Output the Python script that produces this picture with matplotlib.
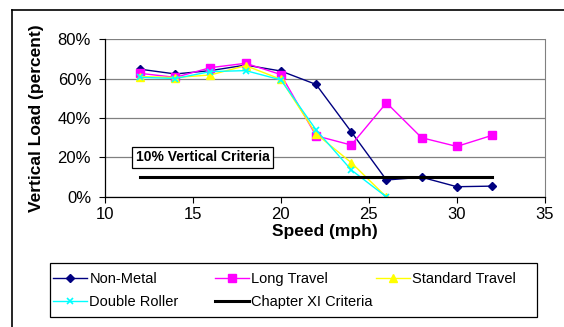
import matplotlib
matplotlib.use("Agg")
import matplotlib.pyplot as plt
from matplotlib.ticker import PercentFormatter
from matplotlib.lines import Line2D
from matplotlib.patches import Rectangle

plt.rcParams['font.family'] = ['Liberation Sans', 'DejaVu Sans']

W, H = 564, 327

# Vertical load (%) vs speed (mph)
speed_full = [12, 14, 16, 18, 20, 22, 24, 26, 28, 30, 32]
speed_short = [12, 14, 16, 18, 20, 22, 24, 26]

non_metal = [64.7, 62.3, 64.0, 66.8, 63.8, 57.0, 33.0, 8.6, 10.0, 5.2, 5.5]
long_travel = [62.6, 60.6, 65.5, 67.7, 62.0, 31.0, 26.3, 47.7, 30.0, 25.6, 31.2]
standard_travel = [61.0, 60.5, 61.8, 66.5, 59.6, 32.0, 17.4, 0.0]
double_roller = [60.6, 60.0, 63.5, 64.0, 59.3, 34.0, 13.7, 0.0]

criteria_x = [12, 32]
criteria_y = [10, 10]

fig = plt.figure(figsize=(W / 100, H / 100), dpi=100)
ax = fig.add_axes([0.186, 0.3976, 0.780, 0.4831])

l_nm, = ax.plot(speed_full, non_metal, color="#000080", marker="D", markersize=4.5,
                linewidth=1.0, label="Non-Metal")
l_lt, = ax.plot(speed_full, long_travel, color="#ff00ff", marker="s", markersize=6,
                linewidth=1.0, label="Long Travel")
l_st, = ax.plot(speed_short, standard_travel, color="#ffff00", marker="^", markersize=6,
                linewidth=1.0, label="Standard Travel")
l_dr, = ax.plot(speed_short, double_roller, color="#00ffff", marker="x", markersize=5,
                markeredgewidth=1.2, linewidth=1.0, label="Double Roller")
l_cx, = ax.plot(criteria_x, criteria_y, color="black", linewidth=2.2,
                label="Chapter XI Criteria")

ax.set_xlim(10, 35)
ax.set_ylim(0, 80)
ax.set_xticks([10, 15, 20, 25, 30, 35])
ax.set_yticks([0, 20, 40, 60, 80])
ax.yaxis.set_major_formatter(PercentFormatter(decimals=0))
ax.tick_params(axis="both", labelsize=12, direction="out", length=4,
               width=0.8, colors="black")
ax.tick_params(axis="y", pad=6)
ax.grid(axis="y", color="#808080", linewidth=0.9)
ax.set_axisbelow(True)

ax.spines["top"].set_visible(False)
ax.spines["right"].set_color("#808080")
ax.spines["left"].set_linewidth(0.9)
ax.spines["bottom"].set_linewidth(0.9)

ax.set_xlabel("Speed (mph)", fontsize=12.5, fontweight="bold", labelpad=1)
ax.set_ylabel("Vertical Load (percent)", fontsize=12.5, fontweight="bold", labelpad=10)

ax.text(11.75, 20, "10% Vertical Criteria", fontsize=10, fontweight="bold",
        va="center", ha="left",
        bbox=dict(boxstyle="square,pad=0.25", facecolor="white",
                  edgecolor="black", linewidth=0.9))

# legend: frame plus three equally spaced columns, filled row by row
fig.add_artist(Rectangle((50 / W, 1 - 317 / H), 487 / W, 54 / H,
                         transform=fig.transFigure, facecolor="white",
                         edgecolor="black", linewidth=0.9))
columns = [[l_nm, l_dr], [l_lt, l_cx], [l_st]]
col_x = [53, 215, 376]
for hs, x0 in zip(columns, col_x):
    fig.legend(hs, [h.get_label() for h in hs], loc="upper left",
               bbox_to_anchor=(x0 / W, 1 - 272 / H), frameon=False,
               fontsize=10.5, handlelength=2.3, handletextpad=0.2,
               borderpad=0.0, labelspacing=0.6, borderaxespad=0)

# outer chart border (left and top visible)
fig.add_artist(Line2D([12 / W, 12 / W], [0, 1 - 10 / H],
                      transform=fig.transFigure, color="black", linewidth=1.2))
fig.add_artist(Line2D([12 / W, 1], [1 - 10 / H, 1 - 10 / H],
                      transform=fig.transFigure, color="black", linewidth=1.2))

fig.savefig("out.png", dpi=100)
